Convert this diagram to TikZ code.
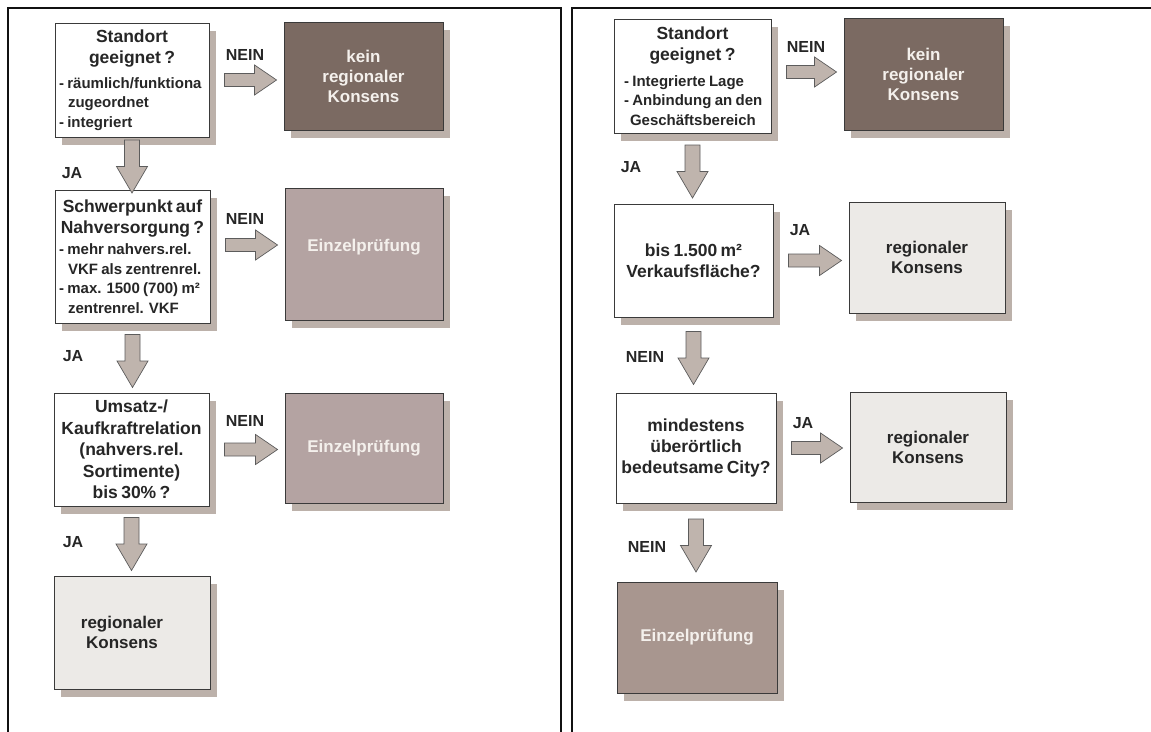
\documentclass[tikz,border=0pt]{standalone}
\usepackage{fontspec}
\setmainfont{Liberation Sans}
\usepackage{xcolor}
\definecolor{FrameBlack}{HTML}{111111}
\definecolor{BoxLine}{HTML}{3A3A3A}
\definecolor{DarkTaupe}{HTML}{7B6A62}
\definecolor{Mauve}{HTML}{B4A3A2}
\definecolor{MauveDk}{HTML}{A8968F}
\definecolor{LightStone}{HTML}{ECEAE7}
\definecolor{ShadowTaupe}{HTML}{BCB1AA}
\definecolor{ArrowFill}{HTML}{BFB4AD}
\definecolor{ArrowLine}{HTML}{5C5C5C}
\definecolor{PaleText}{HTML}{F4F0EC}
\definecolor{InkText}{HTML}{262626}
\usetikzlibrary{positioning,calc,shadows}
\tikzset{
  shd/.style={drop shadow={shadow xshift=7pt,shadow yshift=-8pt,fill=ShadowTaupe,opacity=1}},
  qb/.style={shd,draw=BoxLine,fill=white,line width=0.9pt,inner xsep=4pt,inner ysep=2pt,
    font=\bfseries,text=InkText,align=center,execute at begin node={\setlength{\parindent}{0pt}}},
  rb/.style={shd,draw=BoxLine,line width=0.9pt,align=center,
    font=\bfseries\fontsize{17}{20}\selectfont},
  rbd/.style={rb,fill=DarkTaupe,text=PaleText},
  rbm/.style={rb,fill=Mauve,text=PaleText},
  rbl/.style={rb,fill=LightStone,text=InkText},
  blk/.style={draw=ArrowLine,fill=ArrowFill,line width=0.7pt,line join=miter},
  lb/.style={font=\bfseries\fontsize{16}{18}\selectfont,text=InkText},
  frm/.style={draw=FrameBlack,line width=2pt},
}
\newcommand{\hd}[2][21]{{\centering\fontsize{17.5}{#1}\selectfont #2\par}}
\newcommand{\li}[1]{{\raggedright\fontsize{15}{19.5}\selectfont #1\par}}
\newcommand{\harr}[3][0]{\draw[blk] let \p1=([yshift=#1pt]#2.east), \p2=(#3.west) in
  (\x1+15pt,\y1+6.5pt) -- (\x2-29pt,\y1+6.5pt) -- (\x2-29pt,\y1+15pt) -- (\x2-7pt,\y1)
  -- (\x2-29pt,\y1-15pt) -- (\x2-29pt,\y1-6.5pt) -- (\x1+15pt,\y1-6.5pt) -- cycle;}
\newcommand{\varr}[2]{\draw[blk] let \p1=(#1.south), \p2=(#2.north), \n1={(\y1+\y2)/2} in
  (\x1-7.5pt,\n1+23.5pt) -- (\x1-7.5pt,\n1-3pt) -- (\x1-15.5pt,\n1-3pt) -- (\x1,\n1-29.5pt)
  -- (\x1+15.5pt,\n1-3pt) -- (\x1+7.5pt,\n1-3pt) -- (\x1+7.5pt,\n1+23.5pt) -- cycle;}

\begin{document}
\begin{tikzpicture}[x=1pt,y=-1pt]
\useasboundingbox (0,0) rectangle (1151,731);
\draw[frm] (8,735) -- (8,8) -- (561,8) -- (561,735);
\draw[frm] (572,735) -- (572,8) -- (1155,8);

\node[qb,minimum width=154pt,minimum height=114pt,text width=146pt] (s1) at (132,80)
  {\hd{Standort\\geeignet ?}\vspace{5pt}\li{\mbox{- räumlich/funktiona}\\\hspace*{9pt}zugeordnet\\- integriert}};
\node[rbd,minimum width=159pt,minimum height=108pt] (k1) at (363.5,76)
  {kein\\regionaler\\Konsens};
\node[qb,minimum width=155pt,minimum height=133pt,text width=147pt] (s2) at (132.5,256.5)
  {\hd{Schwerpunkt auf\\Nahversorgung ?}\vspace{2pt}\li{- mehr nahvers.rel.\\\hspace*{9pt}VKF als zentrenrel.\\- max. 1500 (700) m²\\\hspace*{9pt}zentrenrel. VKF}};
\node[rbm,minimum width=158pt,minimum height=132pt] (e1) at (364,254) {Einzelprüfung\\[-2pt]};
\node[qb,minimum width=155pt,minimum height=113pt,text width=147pt] (s3) at (131.5,449.5)
  {\hd[21.5]{Umsatz-/\\Kaufkraftrelation\\(nahvers.rel.\\Sortimente)\\bis 30\% ?}};
\node[rbm,minimum width=158pt,minimum height=110pt] (e2) at (364,448) {Einzelprüfung};
\node[rbl,minimum width=156pt,minimum height=113pt] (r1) at (132,632.5)
  {\hspace*{-20pt}regionaler\\\hspace*{-20pt}Konsens};

\node[lb] (n1) at (245,55) {NEIN};
\node[lb] (n2) at (245,219) {NEIN};
\node[lb] (n3) at (245,421) {NEIN};
\node[lb] (j1) at (72,173) {JA};
\node[lb] (j2) at (73,356) {JA};
\node[lb] (j3) at (73,542) {JA};

\harr{s1}{k1}
\harr[11.5]{s2}{e1}
\harr{s3}{e2}
\varr{s1}{s2}
\varr{s2}{s3}
\varr{s3}{r1}

\node[qb,minimum width=157pt,minimum height=114pt,text width=149pt] (t1) at (692.5,76)
  {\hd{Standort\\geeignet ?}\vspace{6pt}\li{\hspace*{6pt}- Integrierte Lage\\\hspace*{6pt}- Anbindung an den\\\hspace*{12pt}Geschäftsbereich}};
\node[rbd,minimum width=159pt,minimum height=112pt] (k2) at (923.5,74)
  {kein\\regionaler\\Konsens};
\node[qb,minimum width=159pt,minimum height=113pt,text width=151pt] (t2) at (693.5,260.5)
  {\hd{bis 1.500 m²\\Verkaufsfläche?}};
\node[rbl,minimum width=156pt,minimum height=111pt] (r2) at (927,257.5) {regionaler\\Konsens};
\node[qb,minimum width=160pt,minimum height=110pt,text width=152pt] (t3) at (696,448)
  {\hd{mindestens\\überörtlich\\bedeutsame City?}};
\node[rbl,minimum width=156pt,minimum height=110pt] (r3) at (928,447) {regionaler\\Konsens};
\node[rb,fill=MauveDk,text=PaleText,minimum width=160pt,minimum height=111pt] (e3) at (697,637.5)
  {Einzelprüfung};

\node[lb] (n4) at (806,47) {NEIN};
\node[lb] (j4) at (631,167) {JA};
\node[lb] (j5) at (800,230) {JA};
\node[lb] (n5) at (645,357) {NEIN};
\node[lb] (j6) at (803,423) {JA};
\node[lb] (n6) at (647,547) {NEIN};

\harr[4]{t1}{k2}
\harr{t2}{r2}
\harr{t3}{r3}
\varr{t1}{t2}
\varr{t2}{t3}
\varr{t3}{e3}
\end{tikzpicture}
\end{document}
